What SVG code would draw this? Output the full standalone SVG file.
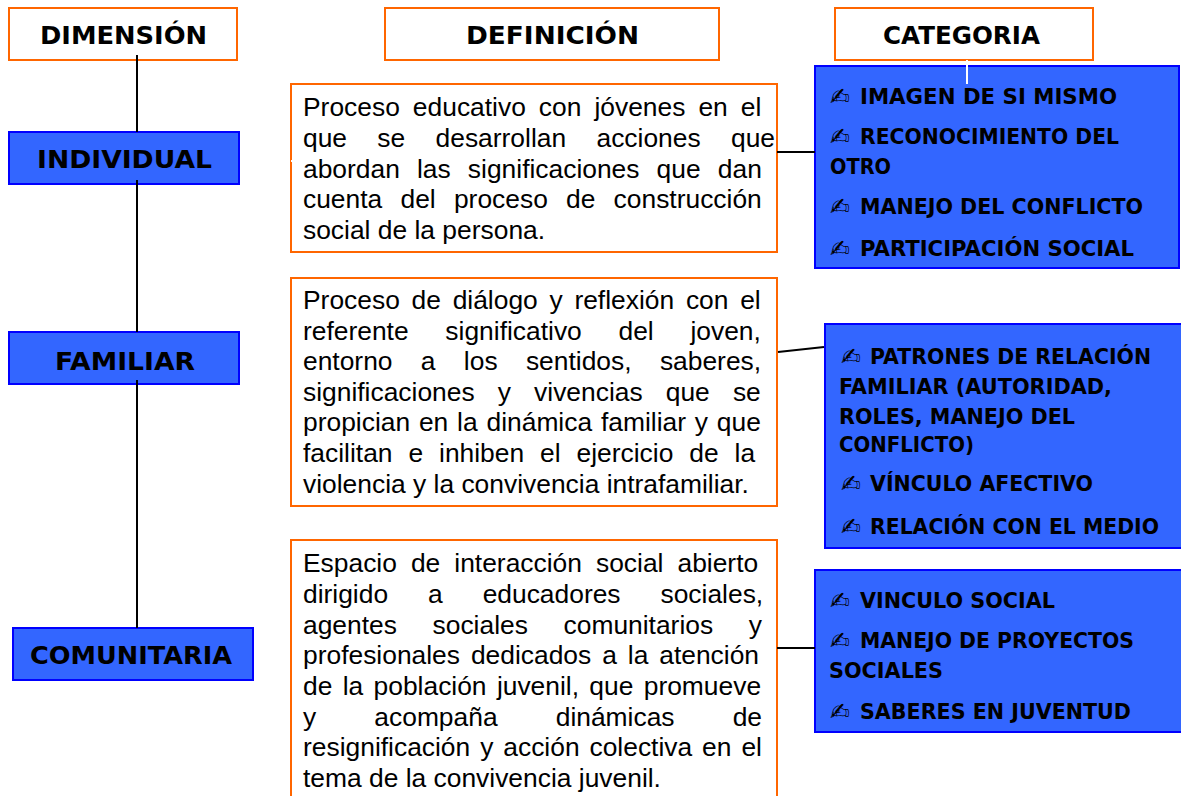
<svg xmlns="http://www.w3.org/2000/svg" width="1181" height="796" viewBox="0 0 1181 796">
<style>
.o{fill:#fff;stroke:#ff6600;stroke-width:2}
.b{fill:#3366ff;stroke:#0000ff;stroke-width:2}
.c{stroke:#000;stroke-width:2;fill:none}
.w{stroke:#fff;stroke-width:2;fill:none}
.h{font:bold 24px "DejaVu Sans",sans-serif;fill:#000}
.l{font:bold 21px "DejaVu Sans",sans-serif;fill:#000}
.p{font:24px "DejaVu Sans",sans-serif;fill:#000}
.t{font:26.4px "Liberation Sans",Arial,sans-serif;fill:#000}
</style>
<rect width="1181" height="796" fill="#fff"/>
<g id="dimension"><rect class="o" x="9" y="8" width="228" height="52"/><text class="h" x="40" y="44" textLength="167" lengthAdjust="spacingAndGlyphs">DIMENSIÓN</text></g>
<g id="definicion"><rect class="o" x="385" y="8" width="334" height="52"/><text class="h" x="466" y="44" textLength="173" lengthAdjust="spacingAndGlyphs">DEFINICIÓN</text></g>
<g id="categoria"><rect class="o" x="835" y="8" width="258" height="52"/><text class="h" x="883" y="44" textLength="157" lengthAdjust="spacingAndGlyphs">CATEGORIA</text></g>
<g id="individual"><rect class="b" x="9" y="132" width="230" height="52"/><text class="h" x="37" y="168" textLength="175" lengthAdjust="spacingAndGlyphs">INDIVIDUAL</text></g>
<g id="familiar"><rect class="b" x="9" y="332" width="230" height="52"/><text class="h" x="55" y="370" textLength="140" lengthAdjust="spacingAndGlyphs">FAMILIAR</text></g>
<g id="comunitaria"><rect class="b" x="13" y="628" width="240" height="52"/><text class="h" x="30" y="664" textLength="202" lengthAdjust="spacingAndGlyphs">COMUNITARIA</text></g>
<g id="def-individual"><rect class="o" x="291" y="84" width="486" height="168"/>
<text class="t" x="303" y="116" word-spacing="5.7">Proceso educativo con jóvenes en el</text>
<text class="t" x="303" y="147" word-spacing="23">que se desarrollan acciones que</text>
<text class="t" x="303" y="178" word-spacing="9.8">abordan las significaciones que dan</text>
<text class="t" x="303" y="208" word-spacing="10.9">cuenta del proceso de construcción</text>
<text class="t" x="303" y="239">social de la persona.</text></g>
<g id="def-familiar"><rect class="o" x="291" y="278" width="486" height="228"/>
<text class="t" x="303" y="309" word-spacing="4.4">Proceso de diálogo y reflexión con el</text>
<text class="t" x="303" y="340" word-spacing="29.4">referente significativo del joven,</text>
<text class="t" x="303" y="370" word-spacing="21">entorno a los sentidos, saberes,</text>
<text class="t" x="303" y="401" word-spacing="15.8">significaciones y vivencias que se</text>
<text class="t" x="303" y="431" word-spacing="1.5">propician en la dinámica familiar y que</text>
<text class="t" x="303" y="462" word-spacing="8.6">facilitan e inhiben el ejercicio de la</text>
<text class="t" x="303" y="493">violencia y la convivencia intrafamiliar.</text></g>
<g id="def-comunitaria"><path class="o" d="M291 797V540H777V797"/>
<text class="t" x="303" y="572" word-spacing="6.7">Espacio de interacción social abierto</text>
<text class="t" x="303" y="603" word-spacing="32.6">dirigido a educadores sociales,</text>
<text class="t" x="303" y="634" word-spacing="28.3">agentes sociales comunitarios y</text>
<text class="t" x="303" y="664" word-spacing="3.6">profesionales dedicados a la atención</text>
<text class="t" x="303" y="695" word-spacing="3">de la población juvenil, que promueve</text>
<text class="t" x="303" y="726" word-spacing="50.8">y acompaña dinámicas de</text>
<text class="t" x="303" y="756" word-spacing="2.6">resignificación y acción colectiva en el</text>
<text class="t" x="303" y="787">tema de la convivencia juvenil.</text></g>
<g id="cat-individual"><rect class="b" x="815" y="66" width="364" height="202"/>
<text class="p" x="830" y="105">✍</text><text class="l" x="860" y="104" textLength="257" lengthAdjust="spacingAndGlyphs">IMAGEN DE SI MISMO</text>
<text class="p" x="830" y="145">✍</text><text class="l" x="860" y="144" textLength="259" lengthAdjust="spacingAndGlyphs">RECONOCIMIENTO DEL</text>
<text class="l" x="830" y="174" textLength="61" lengthAdjust="spacingAndGlyphs">OTRO</text>
<text class="p" x="830" y="215">✍</text><text class="l" x="860" y="214" textLength="283" lengthAdjust="spacingAndGlyphs">MANEJO DEL CONFLICTO</text>
<text class="p" x="830" y="257">✍</text><text class="l" x="860" y="256" textLength="274" lengthAdjust="spacingAndGlyphs">PARTICIPACIÓN SOCIAL</text></g>
<g id="cat-familiar"><rect class="b" x="825" y="324" width="357" height="224"/>
<text class="p" x="841" y="365">✍</text><text class="l" x="870" y="364" textLength="281" lengthAdjust="spacingAndGlyphs">PATRONES DE RELACIÓN</text>
<text class="l" x="839" y="394" textLength="273" lengthAdjust="spacingAndGlyphs">FAMILIAR (AUTORIDAD,</text>
<text class="l" x="839" y="424" textLength="236" lengthAdjust="spacingAndGlyphs">ROLES, MANEJO DEL</text>
<text class="l" x="839" y="452" textLength="135" lengthAdjust="spacingAndGlyphs">CONFLICTO)</text>
<text class="p" x="841" y="492">✍</text><text class="l" x="870" y="491" textLength="223" lengthAdjust="spacingAndGlyphs">VÍNCULO AFECTIVO</text>
<text class="p" x="841" y="535">✍</text><text class="l" x="870" y="534" textLength="289" lengthAdjust="spacingAndGlyphs">RELACIÓN CON EL MEDIO</text></g>
<g id="cat-comunitaria"><rect class="b" x="815" y="570" width="367" height="162"/>
<text class="p" x="830" y="609">✍</text><text class="l" x="860" y="608" textLength="195" lengthAdjust="spacingAndGlyphs">VINCULO SOCIAL</text>
<text class="p" x="830" y="649">✍</text><text class="l" x="860" y="648" textLength="274" lengthAdjust="spacingAndGlyphs">MANEJO DE PROYECTOS</text>
<text class="l" x="829" y="678" textLength="114" lengthAdjust="spacingAndGlyphs">SOCIALES</text>
<text class="p" x="830" y="720">✍</text><text class="l" x="860" y="719" textLength="271" lengthAdjust="spacingAndGlyphs">SABERES EN JUVENTUD</text></g>
<g id="connectors">
<path class="c" d="M137 55V132M137 180V332M137 380V628M777 152H815M778 352L824 347M777 648H815"/>
<path class="w" d="M967 60V84M291 161H292"/>
</g>
</svg>
